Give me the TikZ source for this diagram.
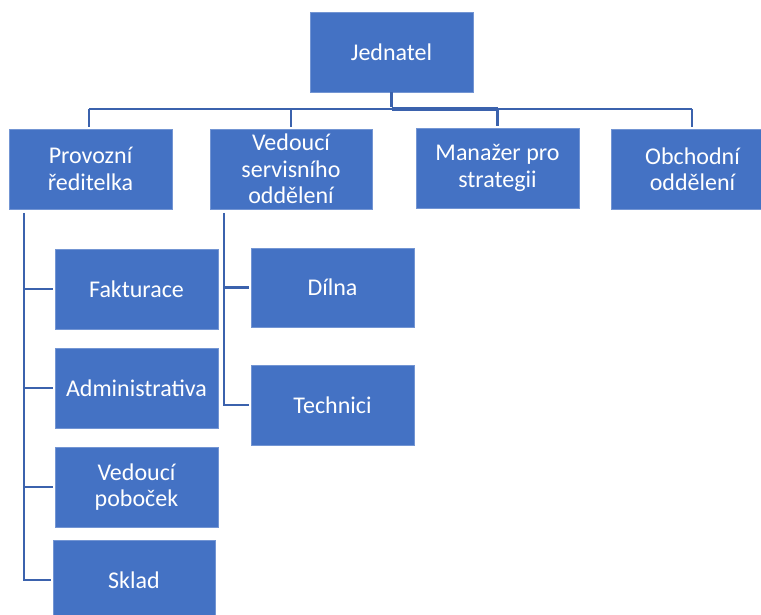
\documentclass[tikz,border=0pt]{standalone}
\usepackage{fontspec}
\setmainfont{Carlito}
\definecolor{boxblue}{HTML}{4472C4}
\definecolor{lineblue}{HTML}{3B62AD}
\begin{document}
\begin{tikzpicture}[x=1pt,y=-1pt,
  orgbox/.style={rectangle, fill=boxblue, draw=boxblue!75!white, line width=0.6pt,
    minimum width=163pt, minimum height=80pt, inner sep=2pt, text=white,
    align=center, font=\fontsize{24}{26.5}\selectfont},
  conn/.style={draw=lineblue, line width=2.8pt, shorten >=2pt}]
\useasboundingbox (0,0) rectangle (761,615);
\node[orgbox] (J) at (391.5,52) {Jednatel};
\node[orgbox] (P) at (90.5,169) {Provozní\\ředitelka};
\node[orgbox, minimum width=162pt] (V) at (291,169) {Vedoucí\\servisního\\oddělení};
\node[orgbox] (M) at (497.5,168) {Manažer pro\\strategii};
\node[orgbox] (O) at (692.5,169) {Obchodní\\oddělení};
\node[orgbox] (F) at (136.5,289) {Fakturace};
\node[orgbox] (A) at (136.5,388) {Administrativa};
\node[orgbox] (VP) at (136.5,487) {Vedoucí\\poboček};
\node[orgbox, minimum width=162pt] (S) at (134,580) {Sklad};
\node[orgbox, minimum height=79pt] (D) at (332.5,287.5) {Dílna};
\node[orgbox] (T) at (332.5,405) {Technici};
% top bus
\coordinate (busL) at (89,109);
\coordinate (busR) at (692,109);
\draw[conn, shorten >=0pt] (busL) -- (busR);
\draw[conn, shorten >=0pt, line width=3.6pt] (J.south |- busL) -- (M.north |- busL);
\draw[conn] (J.south) -- (J.south |- busL);
\draw[conn] (busL) -- (busL |- P.north);
\draw[conn] (V.north |- busL) -- (V.north);
\draw[conn] (M.north |- busL) -- (M.north);
\draw[conn] (busR) -- (busR |- O.north);
% left spine
\coordinate (sp1) at (24,213);
\draw[conn] (sp1) |- (S.west);
\draw[conn] (sp1 |- F.west) -- (F.west);
\draw[conn] (sp1 |- A.west) -- (A.west);
\draw[conn] (sp1 |- VP.west) -- (VP.west);
% second spine
\coordinate (sp2) at (224,213);
\draw[conn] (sp2) |- (T.west);
\draw[conn] (sp2 |- D.west) -- (D.west);
\end{tikzpicture}
\end{document}
